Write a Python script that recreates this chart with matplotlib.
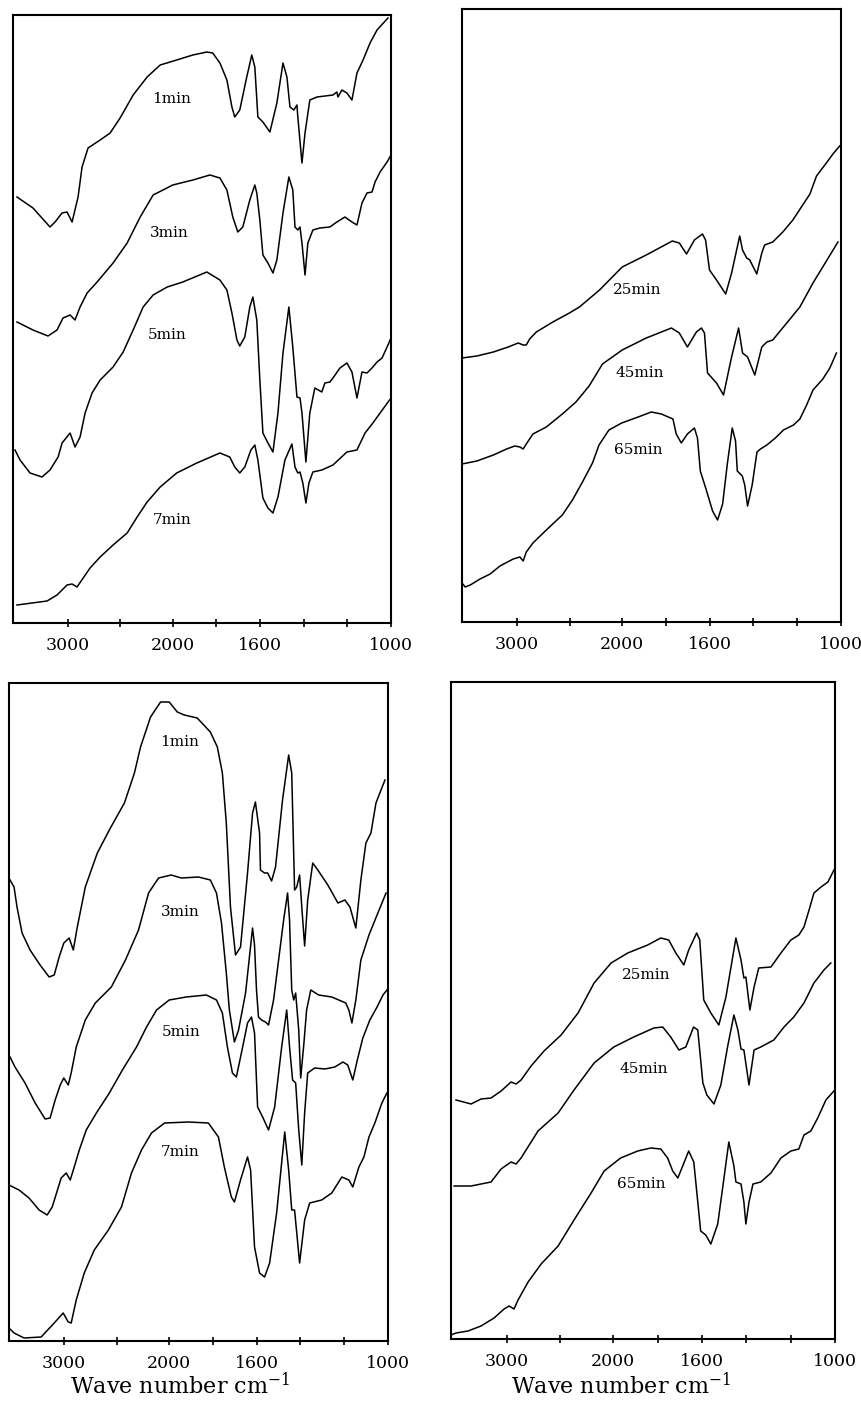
import numpy as np
import matplotlib
matplotlib.use("Agg")
import matplotlib.pyplot as plt
from matplotlib.ticker import FixedLocator, FixedFormatter

plt.rcParams['mathtext.fontset'] = 'dejavuserif'

# ---------------- x axis ----------------
tick_wn = [3000, 2500, 2000, 1800, 1600, 1400, 1200, 1000]
tick_txt = ['3000', '', '2000', '', '1600', '', '', '1000']
x_label = 'Wave number cm$^{-1}$'

# ---------------- panel (a): 1-7 min ----------------
a_1_wn = [3482, 3330, 3168, 3120, 3053, 3006, 2958, 2901, 2863, 2806, 2691, 2596, 2501, 2377, 2244, 2120,
          1982, 1908, 1844, 1817, 1784, 1752, 1729, 1716, 1693, 1661, 1638, 1624, 1610, 1587, 1555, 1523,
          1495, 1477, 1463, 1445, 1431, 1427, 1408, 1394, 1372, 1339, 1266, 1248, 1243, 1225, 1202, 1179,
          1156, 1128, 1096, 1064, 1014]
a_1_t = [426, 415, 396, 401, 410, 411, 401, 426, 456, 475, 483, 490, 505, 528, 546, 558,
         563, 568, 571, 570, 560, 543, 516, 506, 513, 546, 568, 556, 506, 501, 491, 520,
         560, 546, 516, 513, 518, 506, 460, 490, 523, 526, 528, 531, 526, 533, 530, 523,
         550, 563, 580, 593, 605]

a_3_wn = [3482, 3330, 3187, 3101, 3044, 2977, 2930, 2882, 2815, 2720, 2568, 2434, 2310, 2187, 2000, 1908,
          1830, 1784, 1752, 1725, 1702, 1679, 1647, 1624, 1615, 1601, 1587, 1564, 1541, 1523, 1495, 1468,
          1450, 1440, 1427, 1417, 1408, 1394, 1381, 1358, 1326, 1280, 1248, 1211, 1179, 1156, 1133, 1110,
          1087, 1073, 1050, 1018, 1000]
a_3_t = [301, 293, 287, 293, 305, 308, 303, 316, 330, 341, 360, 380, 406, 428, 438, 443,
         448, 445, 433, 406, 391, 396, 423, 438, 430, 403, 368, 360, 350, 363, 410, 446,
         433, 396, 393, 396, 380, 348, 380, 393, 395, 396, 401, 406, 401, 398, 420, 430,
         431, 441, 451, 461, 468]

a_5_wn = [3501, 3453, 3358, 3244, 3168, 3091, 3053, 2977, 2930, 2882, 2834, 2768, 2691, 2568, 2472, 2377,
          2282, 2187, 2053, 1954, 1844, 1784, 1752, 1729, 1706, 1693, 1670, 1647, 1633, 1615, 1601, 1587,
          1564, 1541, 1518, 1495, 1468, 1450, 1431, 1417, 1408, 1390, 1372, 1349, 1317, 1303, 1280, 1266,
          1234, 1202, 1179, 1156, 1133, 1110, 1087, 1064, 1041, 1018, 1000]
a_5_t = [173, 163, 150, 146, 153, 166, 180, 190, 176, 186, 210, 230, 243, 256, 271, 293,
         316, 328, 336, 341, 351, 343, 333, 310, 283, 277, 286, 316, 326, 303, 243, 190,
         180, 171, 210, 270, 316, 276, 226, 225, 210, 161, 210, 235, 231, 240, 241, 245,
         255, 260, 251, 225, 251, 250, 255, 261, 265, 276, 285]

a_7_wn = [3482, 3196, 3101, 3006, 2958, 2911, 2787, 2691, 2568, 2434, 2339, 2244, 2120, 1982, 1890, 1784,
          1739, 1716, 1693, 1670, 1642, 1624, 1610, 1587, 1564, 1541, 1518, 1486, 1454, 1440, 1427, 1417,
          1404, 1390, 1376, 1358, 1317, 1266, 1202, 1156, 1119, 1083, 1050, 1000]
a_7_t = [18, 22, 28, 38, 39, 36, 55, 66, 78, 90, 106, 121, 136, 150, 160, 170,
         166, 156, 150, 156, 173, 178, 163, 125, 115, 110, 126, 163, 179, 156, 150, 151,
         140, 120, 140, 151, 153, 158, 171, 173, 190, 200, 210, 225]

# ---------------- panel (b): 25-65 min ----------------
b_25_wn = [3520, 3379, 3222, 3082, 2987, 2939, 2910, 2878, 2815, 2658, 2501, 2406, 2215, 2000, 1890, 1771,
           1739, 1706, 1670, 1633, 1619, 1601, 1569, 1527, 1500, 1463, 1450, 1431, 1417, 1385, 1362, 1349,
           1312, 1266, 1220, 1142, 1112, 1067, 1037, 1006]
b_25_t = [264, 266, 270, 275, 279, 277, 277, 283, 290, 300, 309, 315, 332, 355, 367, 381,
          379, 368, 382, 388, 382, 352, 342, 328, 349, 386, 372, 364, 362, 348, 369, 377,
          380, 390, 402, 428, 446, 459, 468, 476]

b_45_wn = [3520, 3379, 3222, 3097, 3019, 2971, 2940, 2910, 2847, 2720, 2568, 2439, 2314, 2187, 2000, 1890,
           1775, 1739, 1702, 1661, 1638, 1624, 1610, 1569, 1537, 1500, 1468, 1450, 1427, 1394, 1362, 1339,
           1312, 1248, 1188, 1128, 1064, 1014]
b_45_t = [158, 161, 167, 173, 176, 175, 173, 178, 188, 195, 208, 220, 236, 258, 272, 284,
          294, 289, 275, 290, 294, 289, 249, 239, 227, 265, 294, 269, 265, 247, 275, 280,
          282, 299, 315, 339, 362, 380]

b_65_wn = [3520, 3489, 3442, 3349, 3253, 3160, 3034, 2971, 2940, 2910, 2847, 2720, 2568, 2472, 2377, 2282,
           2220, 2126, 2005, 1927, 1867, 1821, 1768, 1753, 1730, 1702, 1670, 1656, 1643, 1617, 1587, 1564,
           1541, 1519, 1497, 1482, 1474, 1451, 1440, 1427, 1406, 1384, 1368, 1339, 1300, 1263, 1217, 1188,
           1157, 1128, 1083, 1051, 1021]
b_65_t = [39, 35, 37, 43, 48, 56, 63, 65, 61, 70, 79, 92, 107, 122, 140, 159,
          177, 192, 199, 205, 210, 208, 203, 188, 179, 188, 194, 184, 151, 133, 111, 102,
          118, 159, 194, 181, 151, 146, 137, 116, 137, 170, 173, 177, 184, 192, 197, 203,
          217, 232, 243, 254, 269]

# ---------------- panel (c): 1-7 min ----------------
c_1_wn = [3510, 3472, 3444, 3396, 3320, 3225, 3139, 3091, 3044, 3000, 2949, 2910, 2872, 2796, 2682, 2558,
          2425, 2330, 2272, 2177, 2082, 2000, 1963, 1931, 1872, 1812, 1780, 1757, 1739, 1720, 1697, 1674,
          1642, 1619, 1606, 1587, 1583, 1564, 1550, 1532, 1514, 1482, 1454, 1440, 1427, 1417, 1404, 1394,
          1381, 1367, 1344, 1321, 1275, 1229, 1197, 1174, 1147, 1124, 1101, 1078, 1055, 1032, 1014]
c_1_t = [461, 454, 434, 408, 391, 376, 364, 366, 384, 398, 403, 391, 414, 454, 488, 513,
         538, 568, 594, 624, 639, 639, 629, 626, 623, 609, 594, 568, 518, 434, 386, 394,
         468, 528, 539, 508, 471, 468, 468, 460, 474, 541, 586, 568, 451, 454, 466, 434,
         395, 441, 478, 471, 456, 438, 441, 434, 413, 461, 498, 508, 538, 551, 561]

c_3_wn = [3510, 3463, 3368, 3272, 3177, 3130, 3082, 3034, 3000, 2958, 2930, 2882, 2796, 2701, 2606, 2549,
          2415, 2291, 2196, 2101, 1991, 1945, 1867, 1812, 1784, 1761, 1739, 1725, 1702, 1683, 1651, 1619,
          1610, 1601, 1592, 1578, 1560, 1546, 1523, 1500, 1477, 1459, 1450, 1440, 1431, 1422, 1408, 1399,
          1385, 1372, 1353, 1317, 1257, 1225, 1193, 1179, 1165, 1147, 1124, 1087, 1050, 1009]
c_3_t = [284, 274, 258, 238, 222, 223, 241, 256, 263, 256, 268, 294, 321, 338, 348, 354,
         381, 411, 448, 463, 466, 463, 464, 461, 448, 418, 368, 331, 299, 311, 348, 413,
         396, 351, 324, 321, 319, 316, 341, 381, 421, 448, 421, 351, 341, 348, 311, 263,
         296, 331, 351, 346, 344, 341, 338, 331, 318, 341, 381, 406, 426, 448]

c_5_wn = [3520, 3425, 3330, 3234, 3158, 3110, 3025, 2977, 2939, 2901, 2853, 2787, 2691, 2568, 2444, 2310,
          2215, 2120, 2000, 1922, 1830, 1784, 1757, 1734, 1711, 1693, 1670, 1642, 1624, 1610, 1596, 1573,
          1546, 1518, 1486, 1463, 1450, 1436, 1422, 1408, 1394, 1381, 1367, 1335, 1289, 1243, 1206, 1184,
          1161, 1138, 1115, 1083, 1050, 1023, 1005]
c_5_t = [156, 151, 143, 131, 126, 134, 163, 168, 161, 174, 191, 211, 228, 248, 271, 294,
         314, 331, 341, 344, 346, 341, 328, 294, 268, 264, 288, 318, 324, 308, 234, 224,
         211, 234, 294, 331, 294, 261, 258, 211, 176, 228, 268, 273, 272, 274, 279, 276,
         261, 283, 303, 321, 334, 346, 351]

c_7_wn = [3520, 3472, 3377, 3215, 3091, 3006, 2958, 2930, 2882, 2806, 2711, 2577, 2453, 2358, 2263, 2168,
          2044, 1913, 1821, 1775, 1748, 1716, 1702, 1674, 1642, 1628, 1610, 1587, 1564, 1541, 1509, 1472,
          1454, 1440, 1427, 1404, 1381, 1358, 1303, 1257, 1211, 1179, 1161, 1133, 1110, 1087, 1060, 1028,
          1005]
c_7_t = [13, 8, 3, 4, 18, 28, 19, 18, 41, 68, 91, 111, 134, 168, 191, 208,
         218, 219, 218, 204, 174, 144, 139, 161, 184, 171, 94, 68, 64, 78, 128, 209,
         171, 131, 131, 78, 121, 138, 141, 148, 164, 161, 154, 174, 184, 204, 218, 238,
         248]

# ---------------- panel (d): 25-65 min ----------------
d_25_wn = [3473, 3332, 3239, 3145, 3051, 2958, 2910, 2864, 2770, 2649, 2489, 2330, 2180, 2021, 1935, 1845,
           1786, 1750, 1718, 1682, 1660, 1624, 1610, 1592, 1560, 1524, 1492, 1447, 1424, 1411, 1402, 1384,
           1365, 1344, 1289, 1244, 1199, 1163, 1140, 1117, 1095, 1063, 1032, 1000]
d_25_t = [239, 235, 240, 241, 248, 257, 255, 259, 273, 288, 304, 326, 356, 376, 386, 394,
          401, 399, 386, 374, 389, 406, 399, 339, 326, 314, 342, 401, 379, 361, 362, 329,
          352, 371, 372, 386, 399, 404, 412, 429, 446, 452, 457, 471]

d_45_wn = [3491, 3332, 3145, 3051, 2958, 2910, 2864, 2705, 2517, 2368, 2180, 1998, 1908, 1817, 1777, 1741,
           1704, 1673, 1638, 1619, 1596, 1578, 1546, 1515, 1483, 1456, 1438, 1424, 1411, 1388, 1365, 1335,
           1276, 1230, 1186, 1140, 1095, 1050, 1019]
d_45_t = [153, 153, 157, 170, 177, 175, 181, 208, 226, 249, 276, 292, 302, 311, 312, 302,
          289, 292, 312, 309, 256, 244, 235, 254, 294, 324, 309, 290, 289, 254, 289, 292,
          299, 312, 322, 336, 356, 369, 376]

d_65_wn = [3520, 3473, 3361, 3239, 3117, 3023, 2976, 2930, 2892, 2798, 2676, 2517, 2368, 2208, 2086, 1967,
           1890, 1831, 1786, 1755, 1732, 1709, 1687, 1660, 1637, 1619, 1606, 1583, 1560, 1529, 1502, 1479,
           1456, 1447, 1424, 1411, 1402, 1388, 1370, 1335, 1289, 1244, 1199, 1163, 1140, 1109, 1078, 1041,
           1005]
d_65_t = [4, 6, 8, 13, 21, 30, 33, 30, 39, 57, 75, 93, 119, 146, 168, 181,
          188, 191, 190, 181, 168, 161, 173, 188, 177, 137, 108, 104, 95, 115, 159, 197,
          173, 157, 155, 137, 115, 137, 155, 157, 166, 181, 188, 190, 204, 208, 221, 239,
          248]

# curve labels: (text, wavenumber, transmittance)
a_labels = [('1min', 2010, 524), ('3min', 2030, 390), ('5min', 2050, 288), ('7min', 2010, 103)]
b_labels = [('25min', 1931, 332), ('45min', 1922, 249), ('65min', 1927, 172)]
c_labels = [('1min', 1954, 599), ('3min', 1950, 429), ('5min', 1945, 309), ('7min', 1950, 189)]
d_labels = [('25min', 1853, 364), ('45min', 1862, 270), ('65min', 1876, 155)]

# ---------------- drawing ----------------
SERIF = 'DejaVu Serif'


def fwd(w):
    w = np.asarray(w, dtype=float)
    return np.where(w <= 2000, w, 2000 + (w - 2000) / 2.076)


def inv(u):
    u = np.asarray(u, dtype=float)
    return np.where(u <= 2000, u, 2000 + (u - 2000) * 2.076)


def panel(rect, ytop, curves, labels):
    ax = fig.add_axes(rect)
    ax.set_xscale('function', functions=(fwd, inv))
    for wn, t in curves:
        ax.plot(wn, t, color='black', lw=1.1)
    for txt, w, t in labels:
        ax.text(w, t, txt, ha='center', va='center', fontsize=11, family=SERIF)
    ax.set_xlim(3520, 1000)
    ax.set_ylim(0, ytop)
    ax.set_yticks([])
    ax.xaxis.set_major_locator(FixedLocator(tick_wn))
    ax.xaxis.set_major_formatter(FixedFormatter(tick_txt))
    ax.tick_params(axis='x', direction='inout', length=6, width=1.2, pad=7, labelsize=12.5)
    for lab in ax.get_xticklabels():
        lab.set_family(SERIF)
    for s in ax.spines.values():
        s.set_linewidth(1.5)
    return ax


W, H = 861, 1409
fig = plt.figure(figsize=(W / 100, H / 100), dpi=100)


def rect(left, right, top, bottom):
    return [left / W, 1 - bottom / H, (right - left) / W, (bottom - top) / H]


panel(rect(13, 391, 15, 623), 608,
      [(a_1_wn, a_1_t), (a_3_wn, a_3_t), (a_5_wn, a_5_t), (a_7_wn, a_7_t)], a_labels)
panel(rect(462, 841, 9, 622), 613,
      [(b_25_wn, b_25_t), (b_45_wn, b_45_t), (b_65_wn, b_65_t)], b_labels)
panel(rect(9, 388, 683, 1341), 658,
      [(c_1_wn, c_1_t), (c_3_wn, c_3_t), (c_5_wn, c_5_t), (c_7_wn, c_7_t)], c_labels)
panel(rect(451, 835, 682, 1339), 657,
      [(d_25_wn, d_25_t), (d_45_wn, d_45_t), (d_65_wn, d_65_t)], d_labels)

fig.text(180 / W, 1 - 1394 / H, x_label, ha='center', va='baseline', fontsize=16, family=SERIF)
fig.text(621 / W, 1 - 1394 / H, x_label, ha='center', va='baseline', fontsize=16, family=SERIF)

fig.savefig('out.png', dpi=100)
